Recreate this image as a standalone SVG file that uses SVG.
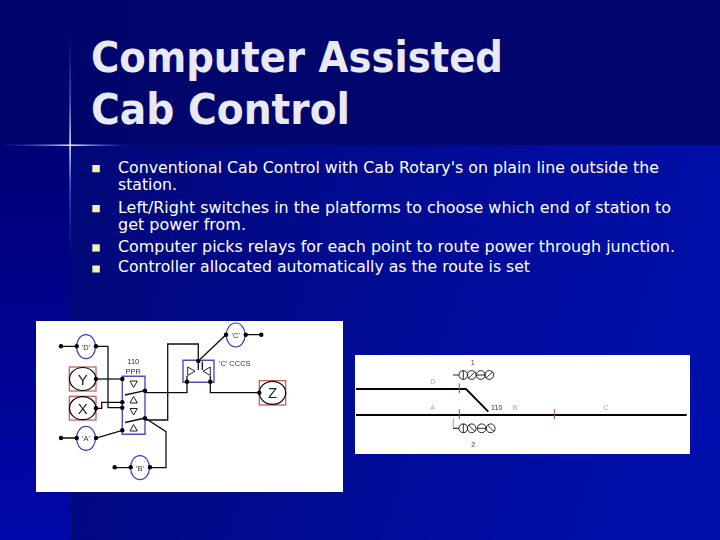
<svg xmlns="http://www.w3.org/2000/svg" width="720" height="540" viewBox="0 0 720 540">
<defs>
<linearGradient id="main" gradientUnits="userSpaceOnUse" x1="70" y1="200" x2="720" y2="400"><stop offset="0" stop-color="#000878"/><stop offset="0.55" stop-color="#000c98"/><stop offset="1" stop-color="#0010ac"/></linearGradient>
<linearGradient id="left" x1="0" y1="0" x2="0" y2="1"><stop offset="0" stop-color="#000070"/><stop offset="0.3" stop-color="#000078"/><stop offset="1" stop-color="#0008aa"/></linearGradient>
<linearGradient id="top" x1="0" y1="0" x2="1" y2="0"><stop offset="0" stop-color="#00056c"/><stop offset="1" stop-color="#00066e"/></linearGradient>
<linearGradient id="sh" x1="0" y1="0" x2="1" y2="0"><stop offset="0" stop-color="#2a50d0" stop-opacity="0"/><stop offset="0.38" stop-color="#5a86ee"/><stop offset="0.55" stop-color="#ffffff"/><stop offset="0.72" stop-color="#5a86ee"/><stop offset="1" stop-color="#2a50d0" stop-opacity="0"/></linearGradient>
<linearGradient id="sv" x1="0" y1="0" x2="0" y2="1"><stop offset="0" stop-color="#2a50d0" stop-opacity="0"/><stop offset="0.3" stop-color="#3c64dc"/><stop offset="0.5" stop-color="#ffffff"/><stop offset="0.68" stop-color="#3c64dc"/><stop offset="1" stop-color="#2a50d0" stop-opacity="0"/></linearGradient>
<filter id="soft" x="-2%" y="-2%" width="104%" height="104%"><feGaussianBlur stdDeviation="0.35"/></filter>
<filter id="softer" x="-2%" y="-2%" width="104%" height="104%"><feGaussianBlur stdDeviation="0.55"/></filter>
<g id="dot"><circle r="2.2" fill="#000"/></g>
</defs>
<style>
.t{font-family:"DejaVu Sans","Liberation Sans",sans-serif;font-weight:700;font-size:43px;fill:#e8e9f2}
.b{font-family:"DejaVu Sans","Liberation Sans",sans-serif;font-size:15.5px;fill:#fff}
.bu{fill:#f2f2b4}
.w{fill:none;stroke:#111;stroke-width:1.3}
.e{fill:#fff;stroke:#3a3fb0;stroke-width:1.2}
.e2{fill:#fff;stroke:#000;stroke-width:1.2}
.r{fill:#fff;stroke:#cc5050;stroke-width:1.2}
.bx{fill:#fff;stroke:#4a50b8;stroke-width:1.4}
.tr{fill:none;stroke:#222;stroke-width:1}
.s{font-family:"Liberation Sans",Arial,sans-serif;font-size:7.5px;fill:#333;text-anchor:middle}
.big{font-family:"Liberation Sans",Arial,sans-serif;font-size:15px;fill:#222;text-anchor:middle}
.l{font-family:"Liberation Sans",Arial,sans-serif;font-size:7px;fill:#aaa;text-anchor:middle}
.m{stroke:#b03a90;stroke-width:1;fill:none}
.sig{fill:none;stroke:#111;stroke-width:0.9}
</style>

<rect width="720" height="540" fill="url(#main)"/>
<rect x="0" y="0" width="70" height="540" fill="url(#left)"/>
<rect x="0" y="0" width="720" height="145" fill="url(#top)"/>
<rect x="0" y="144.5" width="130" height="1.4" fill="url(#sh)"/>
<rect x="69.4" y="35" width="1.4" height="220" fill="url(#sv)"/>

<g id="title">
<text class="t" x="91" y="72" textLength="412" lengthAdjust="spacingAndGlyphs">Computer Assisted</text>
<text class="t" x="91" y="124" textLength="259" lengthAdjust="spacingAndGlyphs">Cab Control</text>
</g>

<g id="bullets">
<rect class="bu" x="92.3" y="165" width="7.5" height="7.3"/>
<rect class="bu" x="92.3" y="205" width="7.5" height="7.3"/>
<rect class="bu" x="92.3" y="244.3" width="7.5" height="7.3"/>
<rect class="bu" x="92.3" y="265.5" width="7.5" height="7"/>
<text class="b" x="118" y="173.3" textLength="541" lengthAdjust="spacingAndGlyphs">Conventional Cab Control with Cab Rotary's on plain line outside the</text>
<text class="b" x="118" y="190" textLength="59" lengthAdjust="spacingAndGlyphs">station.</text>
<text class="b" x="118" y="213" textLength="553" lengthAdjust="spacingAndGlyphs">Left/Right switches in the platforms to choose which end of station to</text>
<text class="b" x="118" y="230" textLength="128" lengthAdjust="spacingAndGlyphs">get power from.</text>
<text class="b" x="118" y="251.7" textLength="557" lengthAdjust="spacingAndGlyphs">Computer picks relays for each point to route power through junction.</text>
<text class="b" x="118" y="272.3" textLength="412" lengthAdjust="spacingAndGlyphs">Controller allocated automatically as the route is set</text>
</g>

<g id="panel-left" filter="url(#soft)">
<rect x="36" y="321" width="307" height="171" fill="#fff"/>
<g id="connectors">
<path class="w" d="M61 346.3H96M96 346.3H108V407.7H122.3"/>
<path class="w" d="M96 379H122.3"/>
<path class="w" d="M96 408.3H101.7V402.3H122.3"/>
<path class="w" d="M61 438H96L122.3 430.3"/>
<path class="w" d="M145 392.7H187V381.7"/>
<path class="w" d="M145 420H167.7V344H198.3V361"/>
<path class="w" d="M145 418L166 431.7V467.7H114.7"/>
<path class="w" d="M198.3 361L226 334.7H261.3"/>
<path class="w" d="M210.3 381.7V392.7H259.3"/>
</g>
<g id="ppr"><path class="bx" style="fill:none" d="M122.3 376.3H145V434.3H122.3Z"/>
<path class="tr" d="M130 381H137.3L133.6 387.5ZM130 403H137.3L133.6 396.5ZM130 408.5H137.3L133.6 415ZM130 431H137.3L133.6 424.5Z"/>
<path class="w" d="M125 395L145 390.7M125 422.5L145 418"/>
<text class="s" x="133.3" y="363.5">110</text><text class="s" x="133.3" y="373.5">PPR</text></g>
<g id="cccs"><path class="bx" style="fill:none" d="M183 360.3H214V382.3H183Z"/>
<path class="tr" d="M187.7 367V375.5L195 371.2ZM210.3 367V375.5L203 371.2Z"/>
<path class="w" d="M198.3 361V370M202.3 361.5V370M187 381.7V376M210.3 381.7V376"/>
<text class="s" x="219" y="365.7" style="text-anchor:start">'C' CCCS</text></g>
<g id="node-d"><ellipse class="e" cx="86" cy="346.7" rx="9.5" ry="12"/><text class="s" x="86" y="349.5">'D'</text></g>
<g id="node-a"><ellipse class="e" cx="86" cy="438.3" rx="9.5" ry="12"/><text class="s" x="86" y="441">'A'</text></g>
<g id="node-b"><ellipse class="e" cx="140" cy="467.7" rx="9.5" ry="12"/><text class="s" x="140" y="470.5">'B'</text></g>
<g id="node-c"><ellipse class="e" cx="235.7" cy="335" rx="9.5" ry="12"/><text class="s" x="235.7" y="338">'C'</text></g>
<g id="node-y"><rect class="r" x="69.3" y="367" width="26.7" height="24"/><ellipse class="e2" cx="82.7" cy="379" rx="13.2" ry="11.5"/><text class="big" x="82.7" y="384.5">Y</text></g>
<g id="node-x"><rect class="r" x="69.3" y="396.3" width="26.7" height="23.7"/><ellipse class="e2" cx="82.7" cy="408.2" rx="13.2" ry="11.5"/><text class="big" x="82.7" y="413.5">X</text></g>
<g id="node-z"><rect class="r" x="259.3" y="380.7" width="26.4" height="24.3"/><ellipse class="e2" cx="272.5" cy="392.8" rx="13.2" ry="11.5"/><text class="big" x="272.5" y="398.2">Z</text></g>
<g id="dots">
<use href="#dot" x="61" y="346.3"/><use href="#dot" x="76.7" y="346.3"/><use href="#dot" x="96" y="346.3"/>
<use href="#dot" x="61" y="438"/><use href="#dot" x="76.7" y="438"/><use href="#dot" x="96" y="438"/>
<use href="#dot" x="114.7" y="467.3"/><use href="#dot" x="130.7" y="467.3"/><use href="#dot" x="150" y="467.3"/>
<use href="#dot" x="226" y="334.7"/><use href="#dot" x="245.7" y="334.7"/><use href="#dot" x="261.3" y="334.7"/>
<use href="#dot" x="96" y="379"/><use href="#dot" x="96" y="408.3"/><use href="#dot" x="259.3" y="392.7"/>
<use href="#dot" x="122.3" y="379"/><use href="#dot" x="122.3" y="402.3"/><use href="#dot" x="122.3" y="407.7"/><use href="#dot" x="122.3" y="430.3"/>
<use href="#dot" x="145" y="390.7"/><use href="#dot" x="145" y="418.3"/>
<use href="#dot" x="198.3" y="361"/><use href="#dot" x="187" y="381.7"/><use href="#dot" x="210.3" y="381.7"/>
</g>
</g>

<g id="panel-right" filter="url(#softer)">
<rect x="355" y="355" width="335" height="99" fill="#fff"/>
<g id="tracks">
<path d="M356 389H466L488.3 411.7" fill="none" stroke="#000" stroke-width="1.8"/>
<path d="M356 415H686.7" fill="none" stroke="#000" stroke-width="2"/>
<path d="M453.3 418.3V428.3H458" fill="none" stroke="#888" stroke-width="0.8"/>
<path class="m" d="M459.3 383.3V393.3M459.3 409.3V419.3M554.3 409.3V419.3"/>
</g>
<g id="signal-1"><path class="sig" d="M453 375H459"/><circle class="sig" cx="463.3" cy="375" r="4.4"/><circle class="sig" cx="471.7" cy="375" r="4.4"/><circle class="sig" cx="480.7" cy="375" r="4.4"/><circle class="sig" cx="489.3" cy="375" r="4.4"/><path class="sig" d="M463.3 370.6V379.4M468.5 378L475 372M476.3 375H485.1M486 378L492.5 372"/></g>
<g id="signal-2"><path class="sig" d="M453 428.3H459"/><circle class="sig" cx="463.3" cy="428.3" r="4.4"/><circle class="sig" cx="471.7" cy="428.3" r="4.4"/><circle class="sig" cx="481.7" cy="428.3" r="4.4"/><circle class="sig" cx="490.7" cy="428.3" r="4.4"/><path class="sig" d="M463.3 423.9V432.7M468.5 425L475 431.6M477.3 428.3H486.1M487.5 425L494 431.6"/></g>
<text class="l" x="472.7" y="365" style="fill:#7a3040">1</text>
<text class="l" x="473.3" y="446.5" style="fill:#7a3040">2</text>
<text class="l" x="432.7" y="384">D</text>
<text class="l" x="432.7" y="410">A</text>
<text class="l" x="496.7" y="410" style="fill:#223080">110</text>
<text class="l" x="515" y="410">B</text>
<text class="l" x="606" y="410">C</text>
</g>
</svg>
